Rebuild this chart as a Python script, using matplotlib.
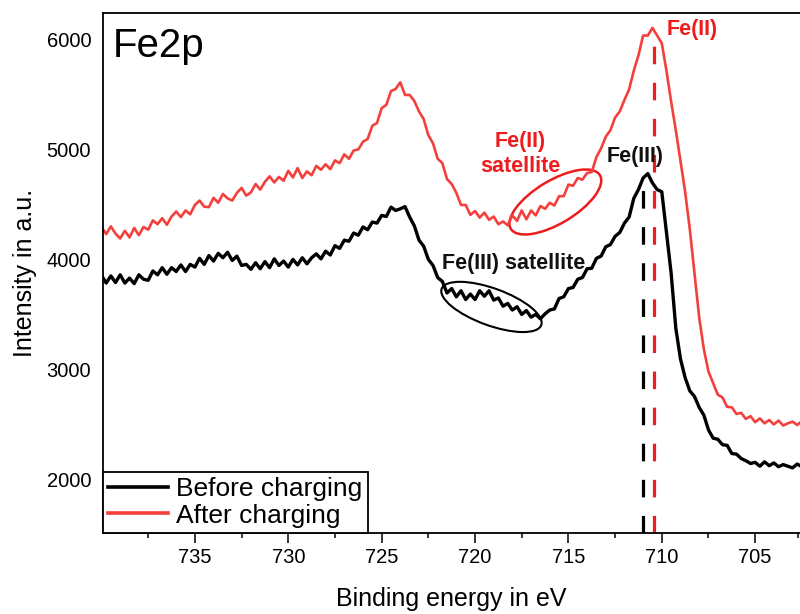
import numpy as np
import matplotlib
matplotlib.use('Agg')
import matplotlib.pyplot as plt
from matplotlib.patches import Ellipse
from matplotlib.transforms import ScaledTranslation

plt.rcParams['font.family'] = ['Liberation Sans', 'DejaVu Sans']

# binding energy grid of the scan, 0.25 eV step from 740 down to 700 eV
energy = np.arange(740.0, 699.99, -0.25)

# intensity, one row = 2 eV
after_charging = [
    4300, 4235, 4305, 4240, 4195, 4265, 4205, 4290,
    4225, 4300, 4275, 4360, 4325, 4380, 4320, 4395,
    4440, 4390, 4450, 4415, 4500, 4540, 4485, 4480,
    4565, 4520, 4600, 4560, 4540, 4610, 4655, 4585,
    4615, 4690, 4640, 4710, 4760, 4705, 4755, 4720,
    4810, 4750, 4835, 4745, 4805, 4770, 4855, 4820,
    4870, 4825, 4905, 4880, 4960, 4920, 4995, 5005,
    5075, 5100, 5220, 5245, 5380, 5410, 5535, 5555,
    5615, 5500, 5500, 5445, 5350, 5280, 5135, 5060,
    4920, 4880, 4735, 4690, 4610, 4500, 4500, 4410,
    4445, 4385, 4430, 4365, 4395, 4325, 4350, 4315,
    4405, 4355, 4450, 4370, 4450, 4405, 4490, 4465,
    4520, 4495, 4580, 4580, 4685, 4675, 4745, 4730,
    4790, 4800, 4935, 5015, 5120, 5180, 5295, 5350,
    5455, 5550, 5720, 5860, 6040, 6040, 6110, 6040,
    5970, 5720, 5440, 5180, 4900, 4620, 4280, 3880,
    3480, 3190, 2985, 2880, 2775, 2750, 2665, 2660,
    2600, 2610, 2555, 2580, 2525, 2560, 2515, 2545,
    2505, 2540, 2495, 2515, 2530, 2500, 2535, 2505,
    2520, 2500, 2530, 2505, 2515, 2500, 2525, 2510,
    2510,
]
before_charging = [
    3860, 3790, 3855, 3795, 3865, 3790, 3835, 3785,
    3865, 3825, 3815, 3900, 3865, 3930, 3870, 3930,
    3895, 3955, 3895, 3960, 3935, 4015, 3960, 4040,
    3990, 4060, 4020, 4070, 3995, 4035, 3950, 3960,
    3915, 3975, 3920, 3985, 3930, 4010, 3950, 3990,
    3935, 4005, 3955, 4020, 3965, 4020, 4055, 4010,
    4080, 4045, 4130, 4105, 4180, 4170, 4245, 4225,
    4300, 4275, 4345, 4335, 4405, 4395, 4480, 4450,
    4465, 4485, 4390, 4310, 4180, 4125, 4005, 3950,
    3840, 3805, 3700, 3740, 3665, 3720, 3640, 3690,
    3640, 3720, 3670, 3720, 3635, 3655, 3580, 3605,
    3545, 3575, 3505, 3540, 3480, 3505, 3465, 3510,
    3545, 3555, 3650, 3665, 3740, 3750, 3825, 3840,
    3920, 3925, 4015, 4035, 4120, 4140, 4215, 4250,
    4335, 4390, 4560, 4640, 4745, 4785, 4700, 4640,
    4620, 4250, 3880, 3380, 3100, 2930, 2810, 2760,
    2660, 2590, 2455, 2380, 2370, 2320, 2315, 2240,
    2235, 2195, 2175, 2150, 2160, 2125, 2165, 2130,
    2155, 2120, 2140, 2125, 2110, 2145, 2120, 2135,
    2115, 2130, 2110, 2140, 2120, 2130, 2110, 2125,
    2120,
]

fe3_peak = 711.0
fe2_peak = 710.4
fe3_top = 4700
fe2_top = 6050

red = '#f4403c'
red_text = '#ee1c1c'

fig = plt.figure(figsize=(8, 6.14), dpi=100)
ax = fig.add_axes([103 / 800, 81 / 614, 697 / 800, 520 / 614])

ax.plot(energy, before_charging, color='black', lw=2.4, label='Before charging')
ax.plot(energy, after_charging, color=red, lw=1.9, label='After charging')

ylo, yhi = 1518, 6245
ax.vlines(fe3_peak, ylo, fe3_top, colors='black', lw=2.3, linestyles=(0, (5.5, 5.8)))
ax.vlines(fe2_peak, ylo, fe2_top, colors=red_text, lw=2.3, linestyles=(0, (5.5, 5.8)))

# circled satellite regions
tr = fig.dpi_scale_trans + ScaledTranslation(715.7, 4527, ax.transData)
ax.add_patch(Ellipse((0, 0), 1.04, 0.43, angle=31, fill=False, ec=red_text, lw=1.8, transform=tr))
tr = fig.dpi_scale_trans + ScaledTranslation(719.12, 3573, ax.transData)
ax.add_patch(Ellipse((0, 0), 1.06, 0.37, angle=-20, fill=False, ec='black', lw=1.5, transform=tr))

ax.text(709.75, 6091, 'Fe(II)', color=red_text, fontsize=15.5, fontweight='bold', ha='left', va='center')
ax.text(717.57, 4964, 'Fe(II)\nsatellite', color=red_text, fontsize=15.5, fontweight='bold',
        ha='center', va='center', multialignment='center')
ax.text(711.41, 4936, 'Fe(III)', color='#111111', fontsize=15.5, fontweight='bold', ha='center', va='center')
ax.text(717.92, 3964, 'Fe(III) satellite', color='#111111', fontsize=15.5, fontweight='bold',
        ha='center', va='center')
ax.text(0.0143, 0.973, 'Fe2p', transform=ax.transAxes, fontsize=29, ha='left', va='top')

ax.set_xlim(739.92, 702.6)
ax.set_ylim(ylo, yhi)
ax.set_xticks([735, 730, 725, 720, 715, 710, 705])
ax.set_xticks([737.5, 732.5, 727.5, 722.5, 717.5, 712.5, 707.5, 702.7], minor=True)
ax.set_yticks([2000, 3000, 4000, 5000, 6000])
ax.tick_params(axis='x', which='major', direction='out', length=7, width=1.1, pad=3.5, labelsize=14.5)
ax.tick_params(axis='x', which='minor', direction='out', length=3.6, width=1.1)
ax.tick_params(axis='y', length=0, pad=8.5, labelsize=14.5)

for side in ['left', 'top', 'bottom']:
    ax.spines[side].set_linewidth(1.3)
ax.spines['right'].set_visible(False)

ax.set_xlabel('Binding energy in eV', fontsize=18)
ax.xaxis.set_label_coords(0.5, -0.104)
ax.set_ylabel('Intensity in a.u.', fontsize=18, labelpad=7)

leg = ax.legend(loc='lower left', borderaxespad=0, fontsize=19, handlelength=2.27,
                handletextpad=0.3, labelspacing=0.1, borderpad=0.2, fancybox=False,
                framealpha=1, edgecolor='black')
leg.get_frame().set_linewidth(1.3)
for line in leg.get_lines():
    line.set_linewidth(2.6)

plt.savefig('out.png', dpi=100)
plt.close()
